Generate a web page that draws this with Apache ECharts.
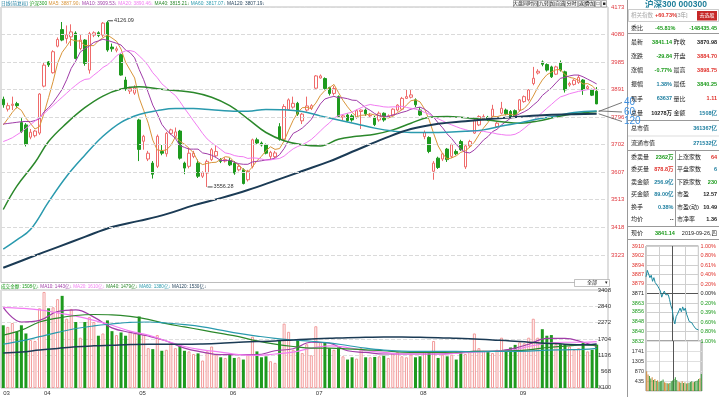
<!DOCTYPE html>
<html><head><meta charset="utf-8">
<script src="https://cdn.jsdelivr.net/npm/echarts@6/dist/echarts.min.js"></script>
<style>html,body{margin:0;padding:0;background:#fff;overflow:hidden}#c{width:719px;height:397px}</style>
</head><body><div id="c"></div>
<script>
// ---------------- DATA ----------------
const months = ['03','04','05','06','07','08','09'];
const monthDays = [9,21,20,19,23,22,18];

const open = [3857,3823,3836,3842,3777,3769,3727,3732,3741,3902,
 3985,3948,4039,4096,4065,4071,4084,4031,4060,3957,
 4077,4085,4077,4120,4036,4025,4010,3923,3885,3878,
 3786,3713,3652,3638,3627,3678,3670,3740,3730,3748,
 3638,3627,3661,3638,3593,3604,3650,3663,3650,3645,
 3647,3638,3615,3615,3581,3627,3718,3707,3700,3661,
 3660,3763,3720,3822,3830,3843,3783,3820,3826,3895,
 3930,3928,3897,3877,3866,3795,3803,3800,3795,3815,
 3820,3800,3795,3786,3809,3795,3803,3820,3823,3860,
 3864,3855,3820,3729,3726,3610,3655,3652,3686,3661,
 3678,3712,3625,3697,3741,3769,3790,3795,3798,3763,
 3809,3820,3815,3818,3820,3849,3855,3911,3947,3985,
 3976,3968,3943,3982,3951,3906,3908,3915,3923,3894,
 3889,3884.70];
const close = [3838,3835,3840,3835,3746,3703,3744,3748,3875,3974,
 3975,4020,4062,4060,4078,4088,3997,4060,3980,4082,
 4085,4076,4118,4026,4030,4030,3940,3892,3894,3896,
 3685,3730,3672,3600,3730,3672,3740,3752,3745,3655,
 3621,3672,3672,3593,3605,3644,3684,3678,3644,3650,
 3632,3604,3627,3568,3610,3718,3707,3700,3672,3675,
 3673,3720,3832,3855,3843,3806,3806,3834,3835,3937,
 3937,3894,3877,3894,3798,3800,3784,3786,3818,3820,
 3807,3802,3770,3809,3786,3800,3823,3837,3860,3866,
 3872,3838,3803,3743,3678,3638,3623,3670,3650,3701,
 3670,3684,3697,3712,3786,3798,3798,3790,3823,3775,
 3826,3807,3798,3800,3855,3866,3889,3929,3953,3977,
 3957,3934,3968,3957,3889,3911,3922,3932,3889,3900,
 3871,3841.14];
const high = [3866,3845,3866,3848,3792,3775,3755,3752,3878,3982,
 3988,4025,4069,4122,4110,4114,4090,4078,4063,4088,
 4090,4090,4122,4126.09,4048,4038,4015,3934,3900,3905,
 3790,3735,3680,3645,3736,3700,3745,3756,3760,3752,
 3643,3690,3680,3650,3610,3650,3690,3700,3655,3658,
 3655,3645,3635,3620,3615,3722,3725,3712,3705,3680,
 3680,3775,3840,3860,3866,3848,3810,3866,3840,3940,
 3942,3932,3900,3903,3870,3805,3808,3806,3822,3822,
 3825,3810,3800,3815,3812,3805,3826,3840,3865,3889,
 3889,3860,3830,3750,3730,3645,3660,3672,3690,3705,
 3685,3718,3702,3718,3790,3802,3805,3800,3838,3780,
 3848,3825,3820,3822,3858,3870,3892,3968,3960,3990,
 3980,3972,3972,3990,3955,3917,3926,3940,3926,3905,
 3893,3898.75];
const low = [3828,3815,3820,3826,3741,3695,3720,3726,3735,3898,
 3968,3945,4035,4056,4048,4040,3994,4025,3972,3945,
 4070,4070,4070,4020,4020,4018,3938,3886,3875,3872,
 3645,3684,3645,3585,3621,3665,3660,3735,3725,3650,
 3600,3620,3655,3587,3587,3556.28,3645,3658,3638,3640,
 3628,3598,3610,3565,3575,3620,3700,3695,3668,3650,
 3655,3715,3715,3820,3825,3800,3772,3815,3820,3889,
 3928,3890,3870,3870,3795,3785,3780,3780,3790,3755,
 3800,3795,3765,3780,3780,3792,3800,3815,3820,3858,
 3860,3830,3800,3720,3672,3581,3618,3645,3642,3655,
 3665,3680,3618,3690,3738,3765,3785,3782,3795,3760,
 3805,3802,3795,3796,3815,3845,3850,3905,3942,3970,
 3952,3930,3940,3952,3880,3900,3904,3910,3872,3890,
 3868,3840.25];
// 成交金额 (亿)
const amount = [2181,2125,2261,1954,2181,1897,1670,1636,2772,3340,
 2772,2806,3090,3204,2409,2749,2295,1750,2295,2465,
 2295,1818,1897,2352,1977,1841,1931,1818,1977,1897,
 2488,1863,1386,1352,1841,1295,1329,1557,1386,1500,
 1295,1273,1182,1204,955,1273,1443,1159,1068,1045,
 1182,1045,1068,989,1159,1784,1273,1068,1102,932,
 875,1670,2238,1954,1329,1670,1216,1523,1136,2147,
 1591,1591,1386,1329,1409,1102,989,1068,1023,1386,
 1068,1068,1080,1102,1125,1045,1216,1250,1102,1068,
 1159,1068,1102,1273,1250,1636,1045,1159,1102,1159,
 989,1273,1182,1273,1897,1386,1295,1273,1216,1329,
 1750,1329,1409,1500,1591,1557,1750,2409,1750,2045,
 1818,1841,1523,1523,1523,1443,1329,1386,1591,1273,
 1329,1508];

const ma5 = [3769,3790,3812,3830,3819,3792,3774,3755,3763,3809,
 3863,3918,3981,4018,4039,4062,4057,4057,4041,4041,
 4041,4057,4068,4077,4067,4056,4029,3984,3957,3930,
 3861,3819,3775,3717,3683,3681,3683,3699,3728,3713,
 3703,3689,3673,3643,3633,3637,3640,3641,3651,3660,
 3658,3642,3631,3616,3608,3625,3646,3661,3681,3694,
 3685,3688,3714,3751,3785,3811,3828,3829,3825,3844,
 3870,3887,3896,3908,3880,3853,3831,3812,3797,3802,
 3803,3807,3803,3802,3795,3793,3798,3811,3821,3837,
 3852,3855,3848,3824,3787,3740,3697,3670,3652,3656,
 3663,3675,3680,3693,3710,3735,3758,3777,3799,3797,
 3802,3804,3806,3801,3817,3825,3842,3868,3898,3923,
 3941,3950,3958,3959,3941,3932,3929,3922,3909,3911,
 3903,3887.90];
const ma10 = [3772,3774,3776,3778,3780,3781,3780,3784,3790,3814,
 3828,3846,3868,3891,3924,3963,3988,4019,4030,4040,
 4052,4057,4063,4059,4054,4049,4043,4026,4017,3999,
 3959,3924,3880,3837,3807,3771,3751,3737,3723,3698,
 3692,3686,3686,3686,3673,3670,3665,3657,3647,3647,
 3648,3641,3636,3634,3634,3642,3644,3646,3649,3651,
 3655,3667,3688,3716,3740,3748,3758,3772,3788,3815,
 3841,3858,3863,3867,3862,3862,3859,3854,3853,3841,
 3828,3819,3808,3800,3799,3798,3803,3807,3812,3816,
 3823,3827,3830,3823,3812,3796,3776,3759,3738,3722,
 3702,3686,3675,3673,3683,3699,3717,3729,3746,3754,
 3769,3781,3792,3800,3807,3814,3823,3837,3850,3870,
 3883,3896,3913,3929,3932,3937,3940,3940,3934,3926,
 3918,3909.53];
const ma20 = [3712,3718,3725,3735,3745,3757,3770,3782,3795,3808,
 3822,3836,3850,3864,3878,3892,3905,3917,3925,3927,
 3940,3952,3966,3975,3989,4006,4016,4023,4024,4020,
 4006,3991,3972,3948,3931,3910,3897,3882,3870,3849,
 3826,3805,3783,3762,3740,3721,3708,3697,3685,3673,
 3670,3664,3661,3660,3654,3656,3655,3652,3648,3649,
 3652,3654,3662,3675,3687,3695,3701,3709,3719,3733,
 3748,3763,3776,3792,3801,3805,3809,3813,3821,3828,
 3835,3839,3836,3834,3831,3830,3831,3831,3833,3829,
 3826,3823,3819,3812,3806,3797,3790,3783,3775,3769,
 3763,3757,3753,3748,3748,3748,3747,3744,3742,3738,
 3736,3734,3734,3737,3745,3757,3770,3783,3798,3812,
 3826,3839,3853,3865,3870,3876,3880,3884,3887,3890,
 3891,3890.46];
// long averages read at the bars listed beside them
const ma40Bars = [0,3,7,10,14,18,22,26,30,34,38,42,46,50,54,58,62,66,70,74,78,82,86,90,94,98,102,106,110,114,118,122,126,131];
const ma40 = [3479,3559,3640,3712,3775,3828,3868,3892,3900,3893,3887,3880,3864,3835,3790,3743,3715,3701,3697,3720,3730,3737,3752,3775,3795,3798,3794,3788,3780,3775,3782,3796,3807,3815.21];
const ma60Bars = [0,3,6,10,14,18,22,26,30,34,38,42,46,50,54,58,62,66,70,74,78,82,86,90,94,98,102,106,110,114,118,122,126,131];
const ma60 = [3343,3375,3410,3505,3593,3665,3730,3778,3805,3818,3825,3825,3821,3817,3816,3822,3821,3815,3800,3786,3772,3758,3748,3743,3743,3744,3747,3752,3765,3776,3789,3800,3812,3817.07];
const ma120Bars = [0,6,12,18,24,30,36,42,48,54,60,66,72,78,84,90,96,102,108,114,120,126,131];
const ma120 = [3279,3315,3350,3385,3419,3440,3463,3493,3518,3546,3578,3611,3644,3683,3722,3755,3773,3782,3790,3797,3803,3806,3807.19];

const volMaBars = [0,4,8,12,16,20,24,28,32,36,40,44,48,52,56,60,64,68,72,76,80,84,88,92,96,100,104,108,112,116,120,124,128,131];
const volMa10 = [2806,2295,2352,2659,2715,2465,2091,1932,1807,1636,1386,1250,1159,1159,1159,1295,1364,1591,1557,1295,1238,1182,1182,1182,1182,1216,1273,1273,1352,1523,1727,1727,1591,1443];
const volMa20 = [2806,2772,2715,2613,2499,2352,2181,1977,1841,1636,1443,1329,1250,1159,1136,1182,1250,1386,1466,1409,1295,1238,1182,1182,1182,1204,1250,1273,1307,1443,1557,1591,1591,1610];
const volMa40 = [1841,2011,2295,2431,2522,2556,2545,2488,2386,2238,2125,2011,1897,1784,1636,1523,1443,1386,1386,1364,1329,1295,1250,1238,1238,1250,1273,1273,1295,1329,1409,1454,1500,1479];
const volMa60 = [1523,1636,1784,1932,2068,2159,2227,2284,2295,2261,2204,2125,2011,1897,1807,1727,1670,1625,1568,1477,1386,1318,1284,1273,1273,1273,1261,1273,1273,1284,1318,1329,1341,1380];
const volMa120 = [1216,1250,1318,1375,1432,1466,1488,1511,1523,1523,1523,1534,1557,1591,1613,1636,1670,1704,1727,1750,1761,1772,1772,1761,1750,1727,1704,1670,1636,1591,1557,1523,1500,1530];

const priceTicks = [3323,3418,3513,3607,3702,3796,3891,3985,4080,4173];
const volTicks = [568,1136,1704,2272,2840,3408];

const maLegendNames = ['MA5','MA10','MA20','MA40','MA60','MA120'];
const maLegendValues = ['3887.90','3909.53','3890.46','3815.21','3817.07','3807.19'];
const volLegendNames = ['成交金额','MA10','MA20','MA40','MA60','MA120'];
const volLegendValues = ['1508亿','1443亿','1610亿','1479亿','1380亿','1530亿'];

// intraday (分时)
const intradayPrice = [3884.7,3890,3887,3884,3886,3881,3884,3880,3881,3877,3875,3873,3868,3871,3873,3870,3871,3870,3866,3861,3858,3850,3846,3852,3854,3853,3859,3856,3860,3857,3859,3854,3851,3848,3849,3847,3845,3844,3842,3843,3841.14];
const intradayVol = [860,720,650,540,600,480,520,430,470,390,420,450,500,380,360,340,330,350,420,460,520,600,480,400,380,360,420,350,380,330,340,360,390,420,380,400,430,460,520,560,740];
const intradayTicks = [3910,3902,3894,3887,3879,3871,3863,3856,3848,3840,3832];
const pctTicks = ['1.00%','0.80%','0.61%','0.40%','0.20%','0.00%','0.20%','0.39%','0.60%','0.80%','1.00%'];
const intradayVolTicks = [435,870,1305,1741];
const prevClose = 3870.98;

// info panel
const panelTitle = '沪深300 000300';
const searchRow = ['相关指数','+60.73%','[3年]','去选股'];
const ratioRow = ['委比','-45.81%','-148435.45'];
const quoteRows = [
 ['最新','3841.14','昨收','3870.98'],
 ['涨跌','-29.84','开盘','3884.70'],
 ['涨幅','-0.77%','最高','3898.75'],
 ['振幅','1.38%','最低','3840.25'],
 ['现手','63637','量比','1.11'],
 ['总量','10278万','金额','1508亿']];
const capRows = [['总市值','361367亿'],['流通市值','271532亿']];
const bookRows = [
 ['委卖量','2362万','上涨家数','64'],
 ['委买量','878.8万','平盘家数','6'],
 ['卖金额','256.9亿','下跌家数','230'],
 ['买金额','89.00亿','市盈','12.57'],
 ['换手','0.38%','市盈(动)','10.49'],
 ['均价','--','市净率','1.36']];
const nowRow = ['现价','3841.14','2019-09-26,四'];
const toolButtons = ['大盘同时间','九转','加自选','分时','返','叠加','□','■'];
const maTags = ['40','60','120'];

// ---------------- BUILD ----------------
const FF = '"Liberation Sans","Noto Sans CJK SC",sans-serif';
const RED = '#e0302a', GREEN = '#1a9a1a', BLUE = '#1e7fa0', BLACK = '#222';
const N = open.length;
const cats = [];
months.forEach((m, k) => { for (let d = 1; d <= monthDays[k]; d++) cats.push(m + '-' + d); });
const xcats = cats.concat([' ', '  ']);

const candle = open.map((o, i) => [o, close[i], low[i], high[i]]);
const upVol = {color: '#ffffff', borderColor: '#f29a9a', borderWidth: 1};
const dnVol = {color: '#1e9a1e'};
const vol = amount.map((v, i) => ({value: v, itemStyle: close[i] >= open[i] ? upVol : dnVol}));
function sparse(bars, vals) { const a = new Array(N).fill(null); bars.forEach((b, k) => { a[b] = vals[k]; }); return a; }

const maColors = ['#d9953a', '#a03ca8', '#f27cf2', '#2b882b', '#2a9aae', '#1b3b55'];
const volMaColors = ['#a03ca8', '#f27cf2', '#2b882b', '#2a9aae', '#1b3b55'];

function line(name, data, color, width, xi, yi, smooth) {
  return {name, type: 'line', data, xAxisIndex: xi, yAxisIndex: yi, symbol: 'none', silent: true,
    smooth: smooth ? 0.4 : false, connectNulls: true,
    lineStyle: {color, width}, z: 3};
}

const idVolData = intradayVol.map((v, i) => ({value: v, itemStyle: {color: (i === 0 ? intradayPrice[0] >= prevClose : intradayPrice[i] >= intradayPrice[i - 1]) ? '#d08a3a' : '#3c9a3c'}}));

// ---------------- GRAPHIC ----------------
const G = [];
function T(x, y, s, o) { G.push({type: 'text', x, y, silent: true, z: 50, style: Object.assign({text: s, fontSize: 6, fill: BLACK, verticalAlign: 'middle', align: 'left', fontFamily: FF}, o || {})}); }
function L(x1, y1, x2, y2, c, w) { G.push({type: 'line', silent: true, z: 49, shape: {x1, y1, x2, y2}, style: {stroke: c || '#b0b0b0', lineWidth: w || 1}}); }
function R(x, y, w, h, st) { G.push({type: 'rect', silent: true, z: 48, shape: {x, y, width: w, height: h}, style: st}); }

// top legend
(function () {
  const fs = 4.8;
  let rich = {t: {fill: '#1e7fa0', fontSize: fs, fontFamily: FF}, s: {fill: GREEN, fontSize: fs, fontFamily: FF}};
  let str = '{t|日线(前复权)} {s|沪深300} ';
  maLegendNames.forEach((n, k) => { rich['m' + k] = {fill: maColors[k], fontSize: fs, fontFamily: FF}; str += '{m' + k + '|' + n + ': ' + maLegendValues[k] + '↓} '; });
  G.push({type: 'text', x: 1, y: 4, silent: true, z: 50, style: {text: str, rich, verticalAlign: 'middle', fontSize: fs, fontFamily: FF}});
  const fs2 = 4.6;
  let rich2 = {};
  let str2 = '';
  const vc = ['#1a9a1a'].concat(volMaColors);
  volLegendNames.forEach((n, k) => { rich2['v' + k] = {fill: vc[k], fontSize: fs2, fontFamily: FF}; str2 += '{v' + k + '|' + n + ': ' + volLegendValues[k] + '↓} '; });
  G.push({type: 'text', x: 1, y: 287, silent: true, z: 50, style: {text: str2, rich: rich2, verticalAlign: 'middle', fontSize: fs2, fontFamily: FF}});
})();

// toolbar buttons
(function () {
  const widths = [24, 11, 14, 12, 6, 9, 5, 5];
  let x = 513;
  toolButtons.forEach((b, k) => {
    R(x + 0.5, 0.5, widths[k], 6.5, {fill: '#f6f6f6', stroke: '#888', lineWidth: 0.6});
    T(x + widths[k] / 2 + 0.5, 4, b, {fontSize: 5, align: 'center'});
    x += widths[k] + 1;
  });
})();

// MA tags
const tagY = maTags.map((_, k) => 102.5 + k * 9.5);
maTags.forEach((s, k) => T(624, tagY[k], s, {fontSize: 10, fill: '#3c8fe0'}));

// 全部 dropdown
R(574.5, 279.5, 35, 7, {fill: '#fff', stroke: '#999', lineWidth: 0.6});
T(592, 283, '全部', {fontSize: 5, align: 'center'});
T(606, 283, '▾', {fontSize: 5, align: 'center'});
T(611, 387, 'X100', {fontSize: 5.5, align: 'right', fill: '#333'});

// right panel
L(627.5, 0, 627.5, 397, '#999');
T(676, 4.5, panelTitle, {fontSize: 8.5, fontWeight: 'bold', fill: '#1f7f9a', align: 'center'});
R(628.5, 9.5, 90, 12, {fill: '#fff', stroke: '#aaa', lineWidth: 0.6});
T(631, 15.5, searchRow[0], {fill: '#aaa', fontSize: 5.5});
T(655, 15.5, searchRow[1], {fill: RED, fontSize: 5.5, fontWeight: 'bold'});
T(676, 15.5, searchRow[2], {fill: '#999', fontSize: 5.5});
R(697, 11, 20, 9.5, {fill: '#c62828'});
T(707, 15.8, searchRow[3], {fill: '#fff', fontSize: 5, align: 'center'});
T(631, 28, ratioRow[0], {fontSize: 6});
T(655, 28, ratioRow[1], {fill: GREEN, fontSize: 5.5, fontWeight: 'bold'});
T(717, 28, ratioRow[2], {fill: GREEN, fontSize: 5.5, fontWeight: 'bold', align: 'right'});
L(628, 33.5, 719, 33.5, '#999');
const qc = [[GREEN, BLACK], [GREEN, RED], [GREEN, RED], [BLUE, GREEN], [BLUE, RED], [BLACK, BLUE]];
quoteRows.forEach((r, k) => {
  const y = 42.5 + k * 14.1;
  T(631, y, r[0], {fontSize: 6});
  T(672, y, r[1], {fill: qc[k][0], fontSize: 5.5, fontWeight: 'bold', align: 'right'});
  T(673.5, y, r[2], {fontSize: 6});
  T(717, y, r[3], {fill: qc[k][1], fontSize: 5.5, fontWeight: 'bold', align: 'right'});
});
L(628, 120.5, 719, 120.5, '#999');
capRows.forEach((r, k) => {
  const y = 128 + k * 15.5;
  T(631, y, r[0], {fontSize: 6});
  T(717, y, r[1], {fill: BLUE, fontSize: 5.5, fontWeight: 'bold', align: 'right'});
});
L(628, 136, 719, 136, '#ddd');
L(628, 150.5, 719, 150.5, '#999');
const bc = [[GREEN, RED], [RED, BLUE], [BLUE, GREEN], [BLUE, BLACK], [BLUE, BLACK], [BLACK, BLACK]];
bookRows.forEach((r, k) => {
  const y = 157 + k * 12.5;
  T(631, y, r[0], {fontSize: 6});
  T(673.5, y, r[1], {fill: bc[k][0], fontSize: 5.5, fontWeight: 'bold', align: 'right'});
  T(677, y, r[2], {fontSize: 6});
  T(717, y, r[3], {fill: bc[k][1], fontSize: 5.5, fontWeight: 'bold', align: 'right'});
});
L(675.5, 150.5, 675.5, 226, '#999');
L(628, 226.5, 719, 226.5, '#999');
T(631, 233, nowRow[0], {fontSize: 6});
T(655, 233, nowRow[1], {fill: GREEN, fontSize: 5.5, fontWeight: 'bold'});
T(717, 233, nowRow[2], {fontSize: 5.5, align: 'right'});
L(628, 239.5, 719, 239.5, '#999');

// ---------------- OPTION ----------------
const axisHidden = {show: false};
const plain = v => String(v);
const option = {
  animation: false,
  backgroundColor: '#ffffff',
  textStyle: {fontFamily: FF},
  grid: [
    {left: 1, top: 7, width: 607, height: 275.5, show: true, borderColor: '#bdbdbd', borderWidth: 1},
    {left: 1, top: 290, width: 607, height: 98, show: true, borderColor: '#bdbdbd', borderWidth: 1},
    {left: 646, top: 246, width: 56, height: 95, show: true, borderColor: '#888', borderWidth: 1},
    {left: 646, top: 341, width: 56, height: 50, show: true, borderColor: '#888', borderWidth: 1}
  ],
  xAxis: [
    {type: 'category', gridIndex: 0, data: xcats, boundaryGap: true, axisLine: axisHidden, axisTick: axisHidden, axisLabel: axisHidden, splitLine: axisHidden},
    {type: 'category', gridIndex: 1, data: xcats, boundaryGap: true, axisLine: axisHidden, axisTick: axisHidden, splitLine: axisHidden,
      axisLabel: {show: true, interval: (i, v) => /-1$/.test(v), formatter: v => v.split('-')[0], align: 'left', fontSize: 6, color: '#333', margin: 2}},
    {type: 'category', gridIndex: 2, data: intradayPrice.map((_, i) => i), boundaryGap: false, axisLine: axisHidden, axisTick: axisHidden, axisLabel: axisHidden,
      splitLine: {show: true, interval: 9, lineStyle: {color: ['#cfcfcf', '#cfcfcf', '#555', '#cfcfcf', '#cfcfcf'], width: 1}}},
    {type: 'category', gridIndex: 3, data: intradayVol.map((_, i) => i), boundaryGap: true, axisLine: axisHidden, axisTick: axisHidden, axisLabel: axisHidden,
      splitLine: {show: true, interval: 9, lineStyle: {color: ['#cfcfcf', '#cfcfcf', '#555', '#cfcfcf', '#cfcfcf'], width: 1}}}
  ],
  yAxis: [
    {type: 'value', gridIndex: 0, position: 'right', min: 3228.6, max: 4173.4, scale: true,
      axisLine: axisHidden, axisTick: {show: false, customValues: priceTicks}, splitLine: axisHidden,
      axisLabel: {customValues: priceTicks, color: '#e0383e', fontSize: 6, margin: 3, formatter: plain}},
    {type: 'value', gridIndex: 1, position: 'right', min: 0, max: 3408, interval: 568,
      axisLine: axisHidden, axisTick: axisHidden,
      splitLine: {show: true, lineStyle: {color: '#dedede', type: 'dashed'}},
      axisLabel: {customValues: volTicks, color: '#333', fontSize: 6, margin: 3, align: 'right', formatter: plain}},
    {type: 'value', gridIndex: 2, position: 'left', min: intradayTicks[intradayTicks.length - 1], max: intradayTicks[0],
      axisLine: axisHidden, axisTick: axisHidden, splitLine: axisHidden,
      axisLabel: {customValues: intradayTicks, fontSize: 5.5, margin: 2, formatter: plain,
        color: v => v > 3871.5 ? RED : (v < 3870.5 ? GREEN : BLACK)}},
    {type: 'value', gridIndex: 2, position: 'right', min: -1, max: 1, interval: 0.2,
      axisLine: axisHidden, axisTick: axisHidden,
      splitLine: {show: true, lineStyle: {color: ['#cfcfcf', '#cfcfcf', '#cfcfcf', '#cfcfcf', '#cfcfcf', '#555', '#cfcfcf', '#cfcfcf', '#cfcfcf', '#cfcfcf', '#cfcfcf'], width: 1}},
      axisLabel: {fontSize: 5.5, margin: 2, formatter: v => pctTicks[Math.round((1 - v) / 0.2)] || '',
        color: v => v > 0.01 ? RED : (v < -0.01 ? GREEN : BLACK)}},
    {type: 'value', gridIndex: 3, position: 'left', min: 0, max: 2176, interval: 435.2,
      axisLine: axisHidden, axisTick: axisHidden,
      splitLine: {show: true, lineStyle: {color: '#e0e0e0'}},
      axisLabel: {customValues: intradayVolTicks, fontSize: 5.5, margin: 2, color: '#333', formatter: plain}}
  ],
  series: [
    {name: '沪深300', type: 'candlestick', xAxisIndex: 0, yAxisIndex: 0, data: candle, barWidth: 3, silent: true, z: 2,
      itemStyle: {color: '#ffffff', color0: '#1e9a1e', borderColor: '#ef6b6b', borderColor0: '#1e9a1e', borderWidth: 1},
      markLine: {silent: true, symbol: 'none', label: {show: false}, animation: false,
        lineStyle: {color: '#dadada', type: 'dashed', width: 1}, data: priceTicks.map(v => ({yAxis: v}))},
      markPoint: {symbol: 'rect', symbolSize: [5, 1], symbolOffset: [3, 0], silent: true, itemStyle: {color: '#444'},
        label: {show: true, position: 'right', distance: 1, fontSize: 5.5, color: '#333', formatter: p => String(p.value)},
        data: [{type: 'max', valueDim: 'highest'}, {type: 'min', valueDim: 'lowest'}]}},
    line('MA5', ma5, maColors[0], 1, 0, 0),
    line('MA10', ma10, maColors[1], 1, 0, 0),
    line('MA20', ma20, maColors[2], 1, 0, 0),
    line('MA40', sparse(ma40Bars, ma40), maColors[3], 1.5, 0, 0, true),
    line('MA60', sparse(ma60Bars, ma60), maColors[4], 1.5, 0, 0, true),
    line('MA120', sparse(ma120Bars, ma120), maColors[5], 2, 0, 0, true),
    {name: '成交金额', type: 'bar', xAxisIndex: 1, yAxisIndex: 1, data: vol, barWidth: 3, silent: true, z: 2},
    line('VMA10', sparse(volMaBars, volMa10), volMaColors[0], 1.2, 1, 1, true),
    line('VMA20', sparse(volMaBars, volMa20), volMaColors[1], 1.2, 1, 1, true),
    line('VMA40', sparse(volMaBars, volMa40), volMaColors[2], 1.2, 1, 1, true),
    line('VMA60', sparse(volMaBars, volMa60), volMaColors[3], 1.2, 1, 1, true),
    line('VMA120', sparse(volMaBars, volMa120), volMaColors[4], 1.5, 1, 1, true),
    {name: '分时', type: 'line', xAxisIndex: 2, yAxisIndex: 2, data: intradayPrice, symbol: 'none', silent: true,
      lineStyle: {color: '#1e8aa0', width: 1}},
    {name: '分时量', type: 'bar', xAxisIndex: 3, yAxisIndex: 4, data: idVolData, barWidth: 1, silent: true}
  ],
  graphic: G
};
const chart = echarts.init(document.getElementById('c'), null, {renderer: 'canvas', width: 719, height: 397});
chart.setOption(option);

// pointer lines from the last MA40 / MA60 / MA120 values to their tags
const lastVals = [ma40[ma40.length - 1], ma60[ma60.length - 1], ma120[ma120.length - 1]];
lastVals.forEach((v, k) => {
  const p = chart.convertToPixel({xAxisIndex: 0, yAxisIndex: 0}, [N - 1, v]);
  L(p[0] + 2, p[1], 622, tagY[k], '#555', 0.8);
});
chart.setOption({graphic: G});
</script></body></html>
